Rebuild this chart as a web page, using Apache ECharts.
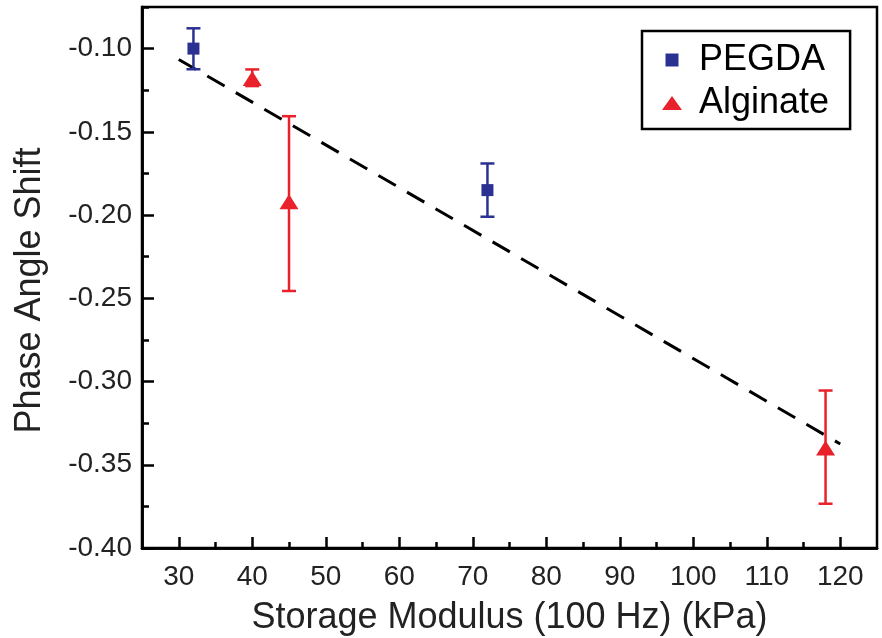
<!DOCTYPE html>
<html>
<head>
<meta charset="utf-8">
<script src="https://cdn.jsdelivr.net/npm/echarts@6/dist/echarts.min.js"></script>
<style>
  html, body { margin: 0; padding: 0; background: #fff; }
  #chart { width: 882px; height: 638px; }
</style>
</head>
<body>
<div id="chart"></div>
<script>
// values
const pegdaX = [32, 72]
const pegdaY = [-0.100, -0.185]
const pegdaHigh = [-0.0878, -0.169]
const pegdaLow = [-0.1124, -0.201]

const alginateX = [40, 45, 118]
const alginateY = [-0.118, -0.192, -0.340]
const alginateHigh = [-0.1125, -0.1406, -0.3054]
const alginateLow = [-0.1225, -0.2456, -0.3734]

const fitX = [30, 120]
const fitY = [-0.1065, -0.3375]

const xMajor = [30, 40, 50, 60, 70, 80, 90, 100, 110, 120]
const xMinor = [35, 45, 55, 65, 75, 85, 95, 105, 115]
const yMajor = [-0.40, -0.35, -0.30, -0.25, -0.20, -0.15, -0.10]
const yMinor = [-0.375, -0.325, -0.275, -0.225, -0.175, -0.125, -0.075]

const blue = '#2b3192'
const red = '#e8212b'
const font = 'Liberation Sans, Arial, sans-serif'

const zip = (xs, ys) => xs.map((x, i) => [x, ys[i]])

const errorBar = (color, capW) => (params, api) => {
  const top = api.coord([api.value(0), api.value(1)])
  const bot = api.coord([api.value(0), api.value(2)])
  const style = { stroke: color, lineWidth: 2.5 }
  return {
    type: 'group',
    children: [
      { type: 'line', shape: { x1: top[0], y1: top[1], x2: bot[0], y2: bot[1] }, style },
      { type: 'line', shape: { x1: top[0] - capW, y1: top[1], x2: top[0] + capW, y2: top[1] }, style },
      { type: 'line', shape: { x1: bot[0] - capW, y1: bot[1], x2: bot[0] + capW, y2: bot[1] }, style }
    ]
  }
}

const axisCommon = {
  type: 'value',
  splitLine: { show: false },
  axisLine: { show: true, onZero: false, lineStyle: { color: '#000', width: 2.5 } }
}

const chart = echarts.init(document.getElementById('chart'))
chart.setOption({
  animation: false,
  grid: {
    left: 142, right: 5, top: 7, bottom: 90,
    outerBoundsMode: 'none', containLabel: false,
    show: true, borderColor: '#000', borderWidth: 2.5, backgroundColor: 'transparent'
  },
  legend: {
    left: 642, top: 31,
    orient: 'vertical',
    borderColor: '#000', borderWidth: 2.5,
    padding: [11, 21, 8, 20],
    itemGap: 7,
    itemWidth: 20, itemHeight: 14,
    textStyle: { fontFamily: font, fontSize: 36, color: '#000', padding: [0, 0, 0, 12] },
    data: [
      { name: 'PEGDA', icon: 'path://M0,0M20,14M3.5,0.5h13v13h-13z', itemStyle: { color: blue } },
      { name: 'Alginate', icon: 'triangle', itemStyle: { color: red } }
    ]
  },
  xAxis: [
    Object.assign({}, axisCommon, {
      min: 25, max: 125,
      name: 'Storage Modulus (100 Hz) (kPa)',
      nameLocation: 'middle', nameGap: 52,
      nameTextStyle: { fontFamily: font, fontSize: 36, color: '#222' },
      axisTick: { inside: true, length: 11, customValues: xMajor, lineStyle: { color: '#000', width: 2.5 } },
      axisLabel: { customValues: xMajor, fontFamily: font, fontSize: 28, color: '#222', margin: 15 }
    }),
    Object.assign({}, axisCommon, {
      min: 25, max: 125, position: 'bottom',
      axisTick: { inside: true, length: 6, customValues: xMinor, lineStyle: { color: '#000', width: 2.5 } },
      axisLabel: { show: false }
    })
  ],
  yAxis: [
    Object.assign({}, axisCommon, {
      min: -0.40, max: -0.075,
      name: 'Phase Angle Shift',
      nameLocation: 'middle', nameGap: 94,
      nameTextStyle: { fontFamily: font, fontSize: 36, color: '#222', padding: [0, 26, 0, 0] },
      axisTick: { inside: true, length: 12, customValues: yMajor, lineStyle: { color: '#000', width: 2.5 } },
      axisLabel: {
        customValues: yMajor, fontFamily: font, fontSize: 28, color: '#222', margin: 10,
        formatter: v => v.toFixed(2)
      }
    }),
    Object.assign({}, axisCommon, {
      min: -0.40, max: -0.075, position: 'left',
      axisTick: { inside: true, length: 7, customValues: yMinor, lineStyle: { color: '#000', width: 2.5 } },
      axisLabel: { show: false }
    })
  ],
  series: [
    {
      name: 'fit',
      type: 'line',
      data: zip(fitX, fitY),
      symbol: 'none',
      lineStyle: { color: '#000', width: 3, type: [20, 13] },
      z: 1
    },
    {
      name: 'PEGDA err',
      type: 'custom',
      renderItem: errorBar(blue, 7),
      data: pegdaX.map((x, i) => [x, pegdaHigh[i], pegdaLow[i]]),
      z: 2
    },
    {
      name: 'Alginate err',
      type: 'custom',
      renderItem: errorBar(red, 7),
      data: alginateX.map((x, i) => [x, alginateHigh[i], alginateLow[i]]),
      z: 2
    },
    {
      name: 'PEGDA',
      type: 'scatter',
      data: zip(pegdaX, pegdaY),
      symbol: 'rect',
      symbolSize: 12,
      itemStyle: { color: blue, opacity: 1 },
      z: 3
    },
    {
      name: 'Alginate',
      type: 'scatter',
      data: zip(alginateX, alginateY),
      symbol: 'triangle',
      symbolSize: [19, 15],
      itemStyle: { color: red, opacity: 1 },
      z: 3
    }
  ]
})
</script>
</body>
</html>
